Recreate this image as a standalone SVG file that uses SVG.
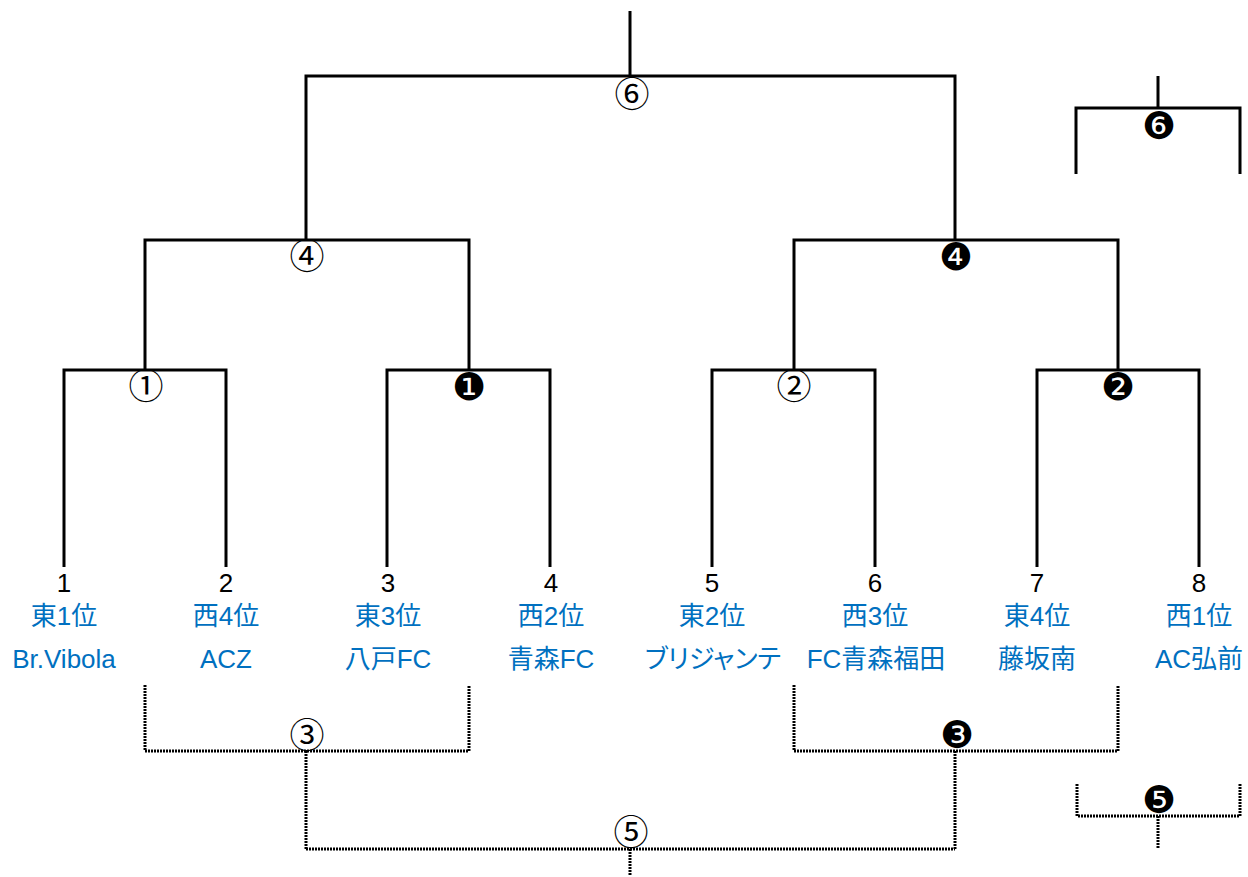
<svg xmlns="http://www.w3.org/2000/svg" width="1248" height="877" viewBox="0 0 1248 877">
<style>
.s{fill:none;stroke:#000;stroke-width:3;stroke-linecap:butt;stroke-linejoin:miter}
.d{fill:none;stroke:#000;stroke-width:3;stroke-dasharray:2 1}
.num{font-family:"Liberation Sans","Noto Sans CJK JP",sans-serif;font-size:26px;fill:#000;text-anchor:middle}
.b{font-family:"Liberation Sans","Noto Sans CJK JP",sans-serif;font-size:26px;fill:#0070C0;text-anchor:middle;font-feature-settings:"palt"}
.c{font-family:"Noto Sans CJK JP","DejaVu Sans",sans-serif;font-size:35px;fill:#000;text-anchor:middle}
.k{font-family:"DejaVu Sans","Noto Sans CJK JP",sans-serif;font-size:38px;fill:#000;text-anchor:middle}
</style>
<rect width="1248" height="877" fill="#fff"/>
<g id="connectors">
<path class="s" d="M630 11V76M306 240V76H955V240"/>
<path class="s" d="M145 370V240H469V370M794 370V240H1118V370"/>
<path class="s" d="M64 567V370H226V567M387 567V370H550V567M712 567V370H875V567M1037 567V370H1199V567"/>
<path class="s" d="M1158 76V108M1076 174V108H1240V174"/>
<path class="d" d="M145 685V751H469V685M306 751V849M794 685V751H1118V685M955 751V849M306 849H955M630 849V876"/>
<path class="d" d="M1077 784V816H1240V784M1158 816V848"/>
</g>
<g id="m6"><text class="c" x="632" y="107">⑥</text></g>
<g id="m4"><text class="c" x="307" y="269">④</text></g>
<g id="mb4"><text class="k" x="956" y="270">❹</text></g>
<g id="m1"><text class="c" x="146" y="399">①</text></g>
<g id="mb1"><text class="k" x="469" y="400">❶</text></g>
<g id="m2"><text class="c" x="794" y="399">②</text></g>
<g id="mb2"><text class="k" x="1118" y="400">❷</text></g>
<g id="m3"><text class="c" x="307" y="748">③</text></g>
<g id="mb3"><text class="k" x="957" y="748">❸</text></g>
<g id="m5"><text class="c" x="631" y="845">⑤</text></g>
<g id="mb5"><text class="k" x="1159" y="813">❺</text></g>
<g id="mb6"><text class="k" x="1159" y="139">❻</text></g>
<g id="t1"><text class="num" x="64" y="592">1</text><text class="b" x="64" y="625">東1位</text><text class="b" x="64" y="668">Br.Vibola</text></g>
<g id="t2"><text class="num" x="226" y="592">2</text><text class="b" x="226" y="625">西4位</text><text class="b" x="226" y="668">ACZ</text></g>
<g id="t3"><text class="num" x="388" y="592">3</text><text class="b" x="388" y="625">東3位</text><text class="b" x="388" y="668">八戸FC</text></g>
<g id="t4"><text class="num" x="551" y="592">4</text><text class="b" x="551" y="625">西2位</text><text class="b" x="551" y="668">青森FC</text></g>
<g id="t5"><text class="num" x="712" y="592">5</text><text class="b" x="712" y="625">東2位</text><text class="b" x="713" y="668">ブリジャンテ</text></g>
<g id="t6"><text class="num" x="875" y="592">6</text><text class="b" x="875" y="625">西3位</text><text class="b" x="876" y="668">FC青森福田</text></g>
<g id="t7"><text class="num" x="1037" y="592">7</text><text class="b" x="1037" y="625">東4位</text><text class="b" x="1037" y="668">藤坂南</text></g>
<g id="t8"><text class="num" x="1199" y="592">8</text><text class="b" x="1199" y="625">西1位</text><text class="b" x="1199" y="668">AC弘前</text></g>
</svg>
